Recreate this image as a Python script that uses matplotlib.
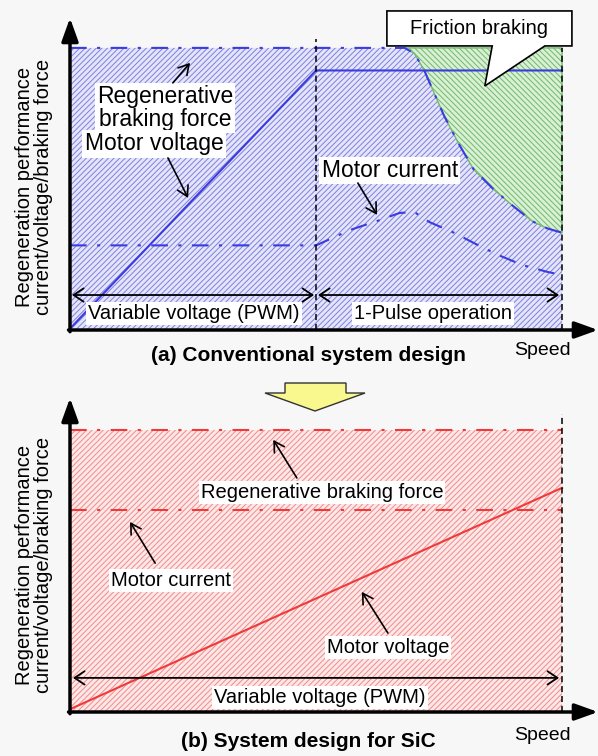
import matplotlib.pyplot as plt
from matplotlib.patches import Polygon, ArrowStyle
from matplotlib.transforms import Affine2D

plt.rcParams['font.family'] = ['Liberation Sans', 'DejaVu Sans']
plt.rcParams['hatch.linewidth'] = 0.7

# (a) conventional system, speed and levels in % of the max
regen_speed = [0, 68, 70, 72, 74, 76, 79, 82, 86, 90, 94, 97, 100]
regen_force = [100, 100, 98, 92, 84, 76, 66, 57, 50, 44, 38.5, 36, 34.5]
volt_speed = [0, 50, 100]
volt_level = [0.5, 92, 92]
curr_speed = [0, 50, 57, 63, 67, 70, 73, 78, 83, 87, 92, 97, 100]
curr_level = [30, 30, 35.5, 39, 41.5, 41.8, 38.3, 34.5, 30, 26.6, 23, 20.6, 19.5]
pwm_limit = 50
friction_from = 68

# (b) SiC system
sic_speed = [0, 100]
sic_regen = [100, 100]
sic_current = [71.6, 71.6]
sic_voltage = [1, 79.5]

titles = ['(a) Conventional system design', '(b) System design for SiC']
ylabel = 'Regeneration performance\ncurrent/voltage/braking force'

W, H = 598, 756
fig = plt.figure(figsize=(W / 100, H / 100), dpi=100, facecolor='#f7f7f7')

# px per unit: 4.92 horizontally, 2.82 vertically
ax1 = fig.add_axes([70 / W, (H - 330) / H, 528 / W, 312 / H])
ax1.set_xlim(0, 107.3)
ax1.set_ylim(0, 110.6)
ax2 = fig.add_axes([70 / W, (H - 712) / H, 528 / W, 314 / H])
ax2.set_xlim(0, 107.3)
ax2.set_ylim(0, 111.35)
for ax in (ax1, ax2):
    ax.set_axis_off()

dashdot = (0, (8, 5, 1.5, 5))
blue = '#3b3be2'
red = '#f03a3a'
box = dict(boxstyle='square,pad=0.1', fc='white', ec='none')
txt = dict(fontsize=14.5, ha='center', va='center', bbox=box)
big = dict(fontsize=16.5, ha='center', va='center', bbox=box)
pointer = dict(arrowstyle=ArrowStyle('->', head_length=0.6, head_width=0.35),
               mutation_scale=12, lw=1.2, color='black', shrinkA=0, shrinkB=0)
both = dict(arrowstyle=ArrowStyle('<->', head_length=0.6, head_width=0.4),
            mutation_scale=12, lw=1.3, color='black', shrinkA=0, shrinkB=0)
axis_arrow = dict(arrowstyle=ArrowStyle('-|>', head_length=1.0, head_width=0.36),
                  mutation_scale=14, lw=2.5, color='black', shrinkA=0, shrinkB=0)


def draw_axes(ax, top, title, label_y, title_y, speed_y):
    ax.annotate('', xy=(0, top), xytext=(0, -0.6), arrowprops=axis_arrow,
                annotation_clip=False)
    ax.annotate('', xy=(107.3, 0), xytext=(-0.3, 0), arrowprops=axis_arrow,
                annotation_clip=False)
    ax.text(-7.3, label_y, ylabel, rotation=90, fontsize=14.5, ha='center',
            va='center', multialignment='center', linespacing=1.0)
    ax.text(48.5, title_y, title, fontsize=15, fontweight='bold', ha='center',
            va='center', clip_on=False)
    ax.text(96, speed_y, 'Speed', fontsize=14, ha='center', va='center',
            clip_on=False)


# ---- (a) conventional
ax1.fill_between(regen_speed, 0, regen_force, facecolor='#e4e4fa',
                 edgecolor='#8080dc', hatch='//////', lw=0)
green_where = [s >= friction_from for s in regen_speed]
ax1.fill_between(regen_speed, regen_force, 100, where=green_where,
                 facecolor='#d9f0d3', edgecolor='#6fb86f',
                 hatch='\\\\\\\\\\\\', lw=1.0)
ax1.plot(regen_speed, regen_force, color=blue, lw=1.5, ls=dashdot)
ax1.plot(volt_speed, volt_level, color=blue, lw=1.5)
ax1.plot(curr_speed, curr_level, color=blue, lw=1.5, ls=dashdot)
ax1.plot([pwm_limit, pwm_limit], [0, 103], color='black', lw=1.1,
         ls=(0, (4, 2.5)), clip_on=False)
ax1.plot([100, 100], [0, 100], color='black', lw=1.1, ls=(0, (4, 2.5)))

ax1.annotate('', xy=(0.4, 12.4), xytext=(pwm_limit - 0.4, 12.4), arrowprops=both)
ax1.annotate('', xy=(pwm_limit + 0.4, 12.4), xytext=(99.4, 12.4), arrowprops=both)
ax1.text(25.2, 6.0, 'Variable voltage (PWM)', **txt)
ax1.text(73.8, 6.0, '1-Pulse operation', **txt)

ax1.text(19.3, 78.7, 'Regenerative\nbraking force', linespacing=1.0, **big)
ax1.text(17.1, 66.0, 'Motor voltage', **big)
ax1.text(65.0, 56.5, 'Motor current', **big)
ax1.annotate('', xy=(24.4, 94.7), xytext=(20.9, 87.6), arrowprops=pointer)
ax1.annotate('', xy=(24.0, 46.8), xytext=(19.9, 61.0), arrowprops=pointer)
ax1.annotate('', xy=(62.4, 40.8), xytext=(58.5, 52.1), arrowprops=pointer)

callout = Polygon([(64.4, 113.1), (102.0, 113.1), (102.0, 100.7), (96.5, 100.7),
                   (84.3, 86.5), (85.8, 100.7), (64.4, 100.7)],
                  closed=True, fc='white', ec='black', lw=1.2, clip_on=False,
                  zorder=5)
ax1.add_patch(callout)
ax1.text(83.1, 107.0, 'Friction braking', fontsize=14.5, ha='center',
         va='center', zorder=6, clip_on=False)

draw_axes(ax1, 110.6, titles[0], 50.7, -9.2, -7.1)

# ---- (b) SiC
ax2.fill_between(sic_speed, 0, sic_regen, facecolor='#fde7e7',
                 edgecolor='#f08c8c', hatch='//////', lw=0)
ax2.plot(sic_speed, sic_regen, color=red, lw=1.5, ls=dashdot)
ax2.plot(sic_speed, sic_current, color=red, lw=1.5, ls=dashdot)
ax2.plot(sic_speed, sic_voltage, color=red, lw=1.5)
ax2.plot([100, 100], [0, 105.5], color='black', lw=1.1, ls=(0, (4, 2.5)))

ax2.annotate('', xy=(0.6, 12.1), xytext=(99.4, 12.1), arrowprops=both)
ax2.text(50.8, 5.3, 'Variable voltage (PWM)', **txt)
ax2.text(51.2, 78.0, 'Regenerative braking force', **txt)
ax2.text(20.5, 46.5, 'Motor current', **txt)
ax2.text(64.6, 23.0, 'Motor voltage', **txt)
ax2.annotate('', xy=(41.3, 96.5), xytext=(46.1, 83.0), arrowprops=pointer)
ax2.annotate('', xy=(12.2, 67.4), xytext=(17.3, 52.8), arrowprops=pointer)
ax2.annotate('', xy=(59.3, 42.6), xytext=(64.6, 28.0), arrowprops=pointer)

draw_axes(ax2, 111.35, titles[1], 52.1, -10.6, -8.2)

# yellow down arrow between the panels (figure pixels)
px = Affine2D().scale(1 / W, -1 / H).translate(0, 1) + fig.transFigure
fig.add_artist(Polygon([(285, 383), (346, 383), (346, 393), (365, 393),
                        (315, 411), (265, 393), (285, 393)], closed=True,
                       fc='#f8f88e', ec='#333333', lw=1.0, transform=px))

fig.savefig('out.png', dpi=100, facecolor=fig.get_facecolor())
